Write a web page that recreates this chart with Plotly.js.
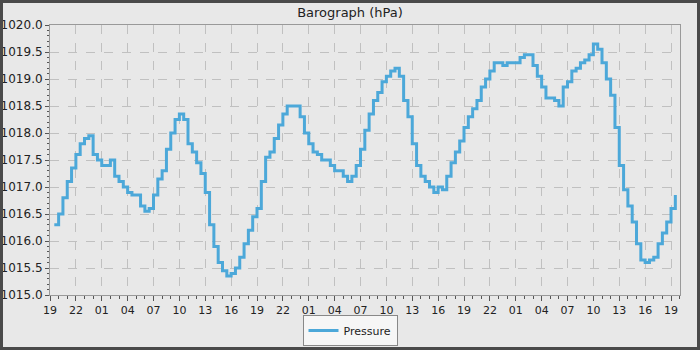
<!DOCTYPE html>
<html>
<head>
<meta charset="utf-8">
<script src="https://cdn.plot.ly/plotly-3.0.1.min.js"></script>
<style>
  html, body { margin: 0; padding: 0; background: #e8e8e8; }
  #wrap { position: relative; width: 700px; height: 350px; overflow: hidden; }
  #chart { position: absolute; left: 0; top: 0; width: 700px; height: 350px; }
  #frame { position: absolute; left: 0; top: 0; width: 700px; height: 350px; box-sizing: border-box;
           border: 3px solid #4a4a4a; pointer-events: none; }
</style>
</head>
<body>
<div id="wrap"><div id="chart"></div><div id="frame"></div></div>
<script>
// Sampling: first reading and interval (minutes)
const startTime = '2024-03-01T19:30:00';
const stepMinutes = 30;

// Pressure readings (hPa), one per 30 minutes
const pressure = [
  1016.3, 1016.5, 1016.8, 1017.1, 1017.35, 1017.6, 1017.8, 1017.9, 1017.95, 1017.6,
  1017.5, 1017.4, 1017.4, 1017.5, 1017.2, 1017.1, 1017.0, 1016.9, 1016.85, 1016.85,
  1016.65, 1016.55, 1016.6, 1016.85, 1017.15, 1017.3, 1017.7, 1018.0, 1018.25, 1018.35,
  1018.25, 1017.8, 1017.65, 1017.45, 1017.25, 1016.9, 1016.3, 1015.9, 1015.6, 1015.45,
  1015.35, 1015.4, 1015.5, 1015.7, 1015.95, 1016.2, 1016.45, 1016.6, 1017.1, 1017.55,
  1017.65, 1017.9, 1018.15, 1018.35, 1018.5, 1018.5, 1018.5, 1018.3, 1018.0, 1017.8,
  1017.65, 1017.6, 1017.5, 1017.5, 1017.4, 1017.3, 1017.3, 1017.2, 1017.1, 1017.2,
  1017.4, 1017.7, 1018.05, 1018.35, 1018.6, 1018.75, 1018.95, 1019.05, 1019.15, 1019.2,
  1019.05, 1018.6, 1018.3, 1017.8, 1017.4, 1017.2, 1017.1, 1017.0, 1016.9, 1017.0,
  1016.95, 1017.2, 1017.45, 1017.65, 1017.85, 1018.1, 1018.3, 1018.45, 1018.6, 1018.85,
  1019.0, 1019.15, 1019.3, 1019.3, 1019.25, 1019.3, 1019.3, 1019.3, 1019.4, 1019.45,
  1019.45, 1019.25, 1019.05, 1018.85, 1018.65, 1018.65, 1018.6, 1018.5, 1018.85, 1018.95,
  1019.15, 1019.2, 1019.3, 1019.35, 1019.45, 1019.65, 1019.55, 1019.3, 1019.0, 1018.7,
  1018.1, 1017.4, 1016.95, 1016.65, 1016.35, 1015.95, 1015.65, 1015.6, 1015.65, 1015.7,
  1015.95, 1016.15, 1016.35, 1016.6, 1016.85
];

// Axis tick settings
const xRange = ['2024-03-01 19:00:00', '2024-03-04 20:02:30'];
const xTick0 = '2024-03-01 19:00:00';
const yRange = [1015.0, 1020.0];

const t0 = Date.parse(startTime + 'Z');
const times = pressure.map((_, i) =>
  new Date(t0 + i * stepMinutes * 60000).toISOString().slice(0, 19).replace('T', ' '));

const font = { family: 'DejaVu Sans, sans-serif', color: '#222222' };

const trace = {
  x: times, y: pressure, type: 'scatter', mode: 'lines', name: 'Pressure',
  line: { color: '#4ca8d9', width: 3, shape: 'hv' }
};

const layout = {
  width: 700, height: 350,
  margin: { l: 50, r: 20, t: 25, b: 55 },
  paper_bgcolor: '#e8e8e8', plot_bgcolor: '#e8e8e8',
  font: Object.assign({ size: 11 }, font),
  title: { text: 'Barograph (hPa)', font: Object.assign({ size: 13 }, font),
           x: 0.5, xref: 'container', y: 1 - 12 / 350, yref: 'container', yanchor: 'middle' },
  showlegend: true,
  legend: { orientation: 'h', x: 0.5, xref: 'container', xanchor: 'center',
            y: 4 / 350, yref: 'container', yanchor: 'bottom',
            bgcolor: '#f6f6f6', bordercolor: '#888888', borderwidth: 1,
            itemwidth: 30, font: Object.assign({ size: 11 }, font) },
  xaxis: {
    type: 'date', range: xRange, tick0: xTick0, dtick: 3 * 3600000, tickformat: '%H',
    showgrid: true, gridcolor: '#c0c0c0', griddash: 'dash', gridwidth: 1,
    showline: true, linecolor: '#999999', linewidth: 1, mirror: true,
    ticks: 'outside', ticklen: 5, tickcolor: '#555555',
    minor: { dtick: 3600000, ticks: 'outside', ticklen: 3, tickcolor: '#555555', showgrid: false },
    tickfont: Object.assign({ size: 11 }, font), zeroline: false, fixedrange: true
  },
  yaxis: {
    range: yRange, dtick: 0.5, tickformat: '.1f',
    showgrid: true, gridcolor: '#c0c0c0', griddash: 'dash', gridwidth: 1,
    showline: true, linecolor: '#999999', linewidth: 1, mirror: true,
    ticks: 'outside', ticklen: 4, tickcolor: '#555555',
    minor: { dtick: 0.1, ticks: 'outside', ticklen: 2, tickcolor: '#555555', showgrid: false },
    tickfont: Object.assign({ size: 12 }, font), zeroline: false, fixedrange: true
  }
};

Plotly.newPlot('chart', [trace], layout, { displayModeBar: false, staticPlot: true });
</script>
</body>
</html>
